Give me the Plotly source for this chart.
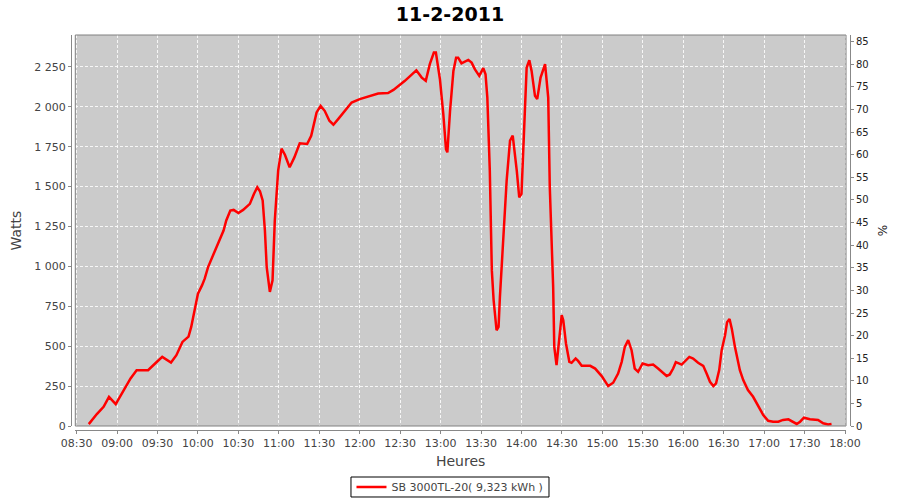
import plotly.graph_objects as go

# ---- data ----
times = ["08:39:00","08:45:00","08:50:00","08:54:00","08:59:00","09:05:00","09:10:00","09:14:30","09:23:00","09:29:00",
"09:33:30","09:40:00","09:44:00","09:48:30","09:53:00","09:55:00","09:58:00","10:00:00","10:03:00","10:05:00",
"10:07:30","10:10:00","10:14:00","10:16:00","10:19:00","10:21:00","10:24:00","10:26:30","10:30:00","10:33:30",
"10:38:30","10:41:30","10:44:00","10:46:00","10:48:00","10:49:40","10:51:00","10:53:20","10:55:20","10:57:00",
"10:59:30","11:02:00","11:04:30","11:08:00","11:11:30","11:15:30","11:21:00","11:24:00","11:28:00","11:31:00",
"11:34:00","11:37:30","11:40:30","11:44:00","11:49:00","11:54:00","12:00:00","12:07:30","12:13:40","12:21:00",
"12:25:00","12:33:30","12:42:00","12:46:00","12:49:00","12:52:00","12:55:00","12:56:30","12:59:30","13:02:00",
"13:04:00","13:05:00","13:07:00","13:09:30","13:11:30","13:13:00","13:15:30","13:20:30","13:23:00","13:25:30",
"13:28:40","13:31:40","13:33:20","13:34:40","13:36:30","13:38:00","13:39:20","13:41:30","13:43:00","13:44:00",
"13:46:30","13:49:00","13:51:30","13:53:30","13:56:30","13:58:20","14:00:00","14:02:30","14:03:50","14:05:50",
"14:07:30","14:10:00","14:11:40","14:14:10","14:17:30","14:19:50","14:21:00","14:23:30","14:24:20","14:26:00",
"14:28:00","14:29:50","14:31:00","14:33:00","14:35:30","14:37:10","14:40:10","14:42:00","14:44:40","14:51:00",
"14:54:40","14:59:30","15:04:20","15:08:00","15:11:40","15:14:20","15:16:40","15:19:10","15:21:40","15:24:00",
"15:26:30","15:29:50","15:34:00","15:37:40","15:41:20","15:45:00","15:47:40","15:50:00","15:52:30","15:54:30",
"15:58:50","16:04:30","16:07:20","16:11:00","16:14:50","16:17:20","16:19:50","16:22:20","16:24:20","16:26:40",
"16:28:30","16:31:00","16:32:30","16:34:20","16:36:00","16:38:20","16:42:00","16:44:30","16:48:00","16:51:50",
"16:55:30","16:59:20","17:03:00","17:06:40","17:10:30","17:14:00","17:18:00","17:20:30","17:24:10","17:26:40",
"17:29:30","17:34:00","17:40:00","17:43:50","17:47:30","17:50:00"]

watts = [12,75,120,183,137,221,298,350,350,398,
433,398,444,527,560,621,746,829,881,923,
996,1048,1131,1163,1225,1288,1350,1354,1335,1354,
1392,1454,1496,1471,1413,1225,996,840,913,1288,
1600,1738,1700,1621,1683,1771,1767,1819,1965,2006,
1975,1913,1888,1923,1975,2027,2048,2065,2083,2086,
2106,2163,2229,2183,2163,2267,2340,2340,2173,1954,
1735,1715,1975,2225,2308,2308,2273,2294,2277,2235,
2194,2242,2204,2058,1600,975,788,600,621,808,
1183,1538,1788,1819,1600,1433,1454,1913,2246,2292,
2225,2069,2048,2183,2267,2058,1496,871,496,381,
558,694,663,517,402,396,423,408,377,377,
360,313,250,271,329,402,496,538,475,360,
340,392,381,385,360,329,313,323,360,400,
385,433,423,396,377,329,277,250,267,350,
475,569,650,670,610,496,350,288,225,183,
131,69,33,27,27,38,42,31,13,27,
52,42,38,17,10,13]

day = "2011-02-11"
series_name = "SB 3000TL-20( 9,323 kWh )"
title_text = "11-2-2011"
y_tick_vals = [0, 250, 500, 750, 1000, 1250, 1500, 1750, 2000, 2250]
y_tick_text = ["0", "250", "500", "750", "1 000", "1 250", "1 500", "1 750", "2 000", "2 250"]

x = [f"{day} {t}" for t in times]

fig = go.Figure()
fig.add_trace(go.Scatter(x=x, y=watts, mode="lines", name=series_name,
                         line=dict(color="#ff0000", width=2.5), yaxis="y"))
# dummy trace so the percent axis is drawn
fig.add_trace(go.Scatter(x=[x[0]], y=[0], mode="lines", yaxis="y2", showlegend=False,
                         hoverinfo="skip", line=dict(width=0, color="rgba(0,0,0,0)")))

grid = dict(showgrid=True, gridcolor="rgba(255,255,255,0.85)", gridwidth=1, griddash="3px,2px")
tickfont = dict(family="DejaVu Sans", size=11, color="#444444")

fig.update_layout(
    width=900, height=500,
    margin=dict(l=71, r=50, t=35, b=70, autoexpand=False),
    paper_bgcolor="white",
    plot_bgcolor="#cbcbcb",
    title=dict(text=f"<b>{title_text}</b>", x=0.5, xref="container", xanchor="center",
               y=0.972, yref="container", yanchor="middle",
               font=dict(family="DejaVu Sans", size=19, color="black")),
    xaxis=dict(type="date", domain=[0.0055, 0.9949], anchor="free", position=0,
               automargin=False,
               range=[f"{day} 08:29:00", f"{day} 18:00:45"],
               dtick=30 * 60 * 1000, tick0=f"{day} 08:30:00", tickformat="%H:%M",
               ticks="outside", ticklen=3, tickcolor="#888888",
               showline=True, linecolor="#888888", linewidth=1,
               tickfont=tickfont, zeroline=False,
               title=dict(text="Heures", standoff=6,
                          font=dict(family="DejaVu Sans", size=14, color="#444444")),
               **grid),
    yaxis=dict(domain=[0.0101, 1], anchor="free", position=0, automargin=False,
               range=[0, 2450], tickvals=y_tick_vals, ticktext=y_tick_text,
               ticks="outside", ticklen=3, tickcolor="#888888",
               showline=True, linecolor="#888888", linewidth=1,
               tickfont=tickfont, zeroline=False,
               title=dict(text="Watts", standoff=8,
                          font=dict(family="DejaVu Sans", size=14, color="#444444")),
               **grid),
    yaxis2=dict(overlaying="y", side="right", anchor="free", position=1, automargin=False,
                range=[0, 86.5], dtick=5, tick0=0,
                ticks="outside", ticklen=3, tickcolor="#888888",
                showline=True, linecolor="#888888", linewidth=1,
                showgrid=False, zeroline=False,
                tickfont=dict(family="DejaVu Sans", size=10, color="#222222"),
                title=dict(text="%", standoff=10,
                           font=dict(family="DejaVu Sans", size=12, color="#222222"))),
    showlegend=True,
    legend=dict(orientation="h", x=0.4865, xanchor="center", y=-0.1443, yanchor="middle",
                borderwidth=0, bgcolor="rgba(0,0,0,0)",
                font=dict(family="DejaVu Sans", size=11, color="#444444"),
                itemwidth=30, tracegroupgap=0),
    shapes=[dict(type="rect", xref="x domain", yref="y domain", x0=0, x1=1, y0=0, y1=1,
                 line=dict(color="#808080", width=1), fillcolor="rgba(0,0,0,0)", layer="above"),
            dict(type="rect", xref="paper", yref="paper", x0=0.3594, x1=0.6136,
                 y0=-0.1696, y1=-0.119,
                 line=dict(color="black", width=1), fillcolor="rgba(0,0,0,0)", layer="above")],
)

fig.write_html("out.html", config={"displayModeBar": False},
               post_script="document.body.style.margin='0';document.body.style.padding='0';")
